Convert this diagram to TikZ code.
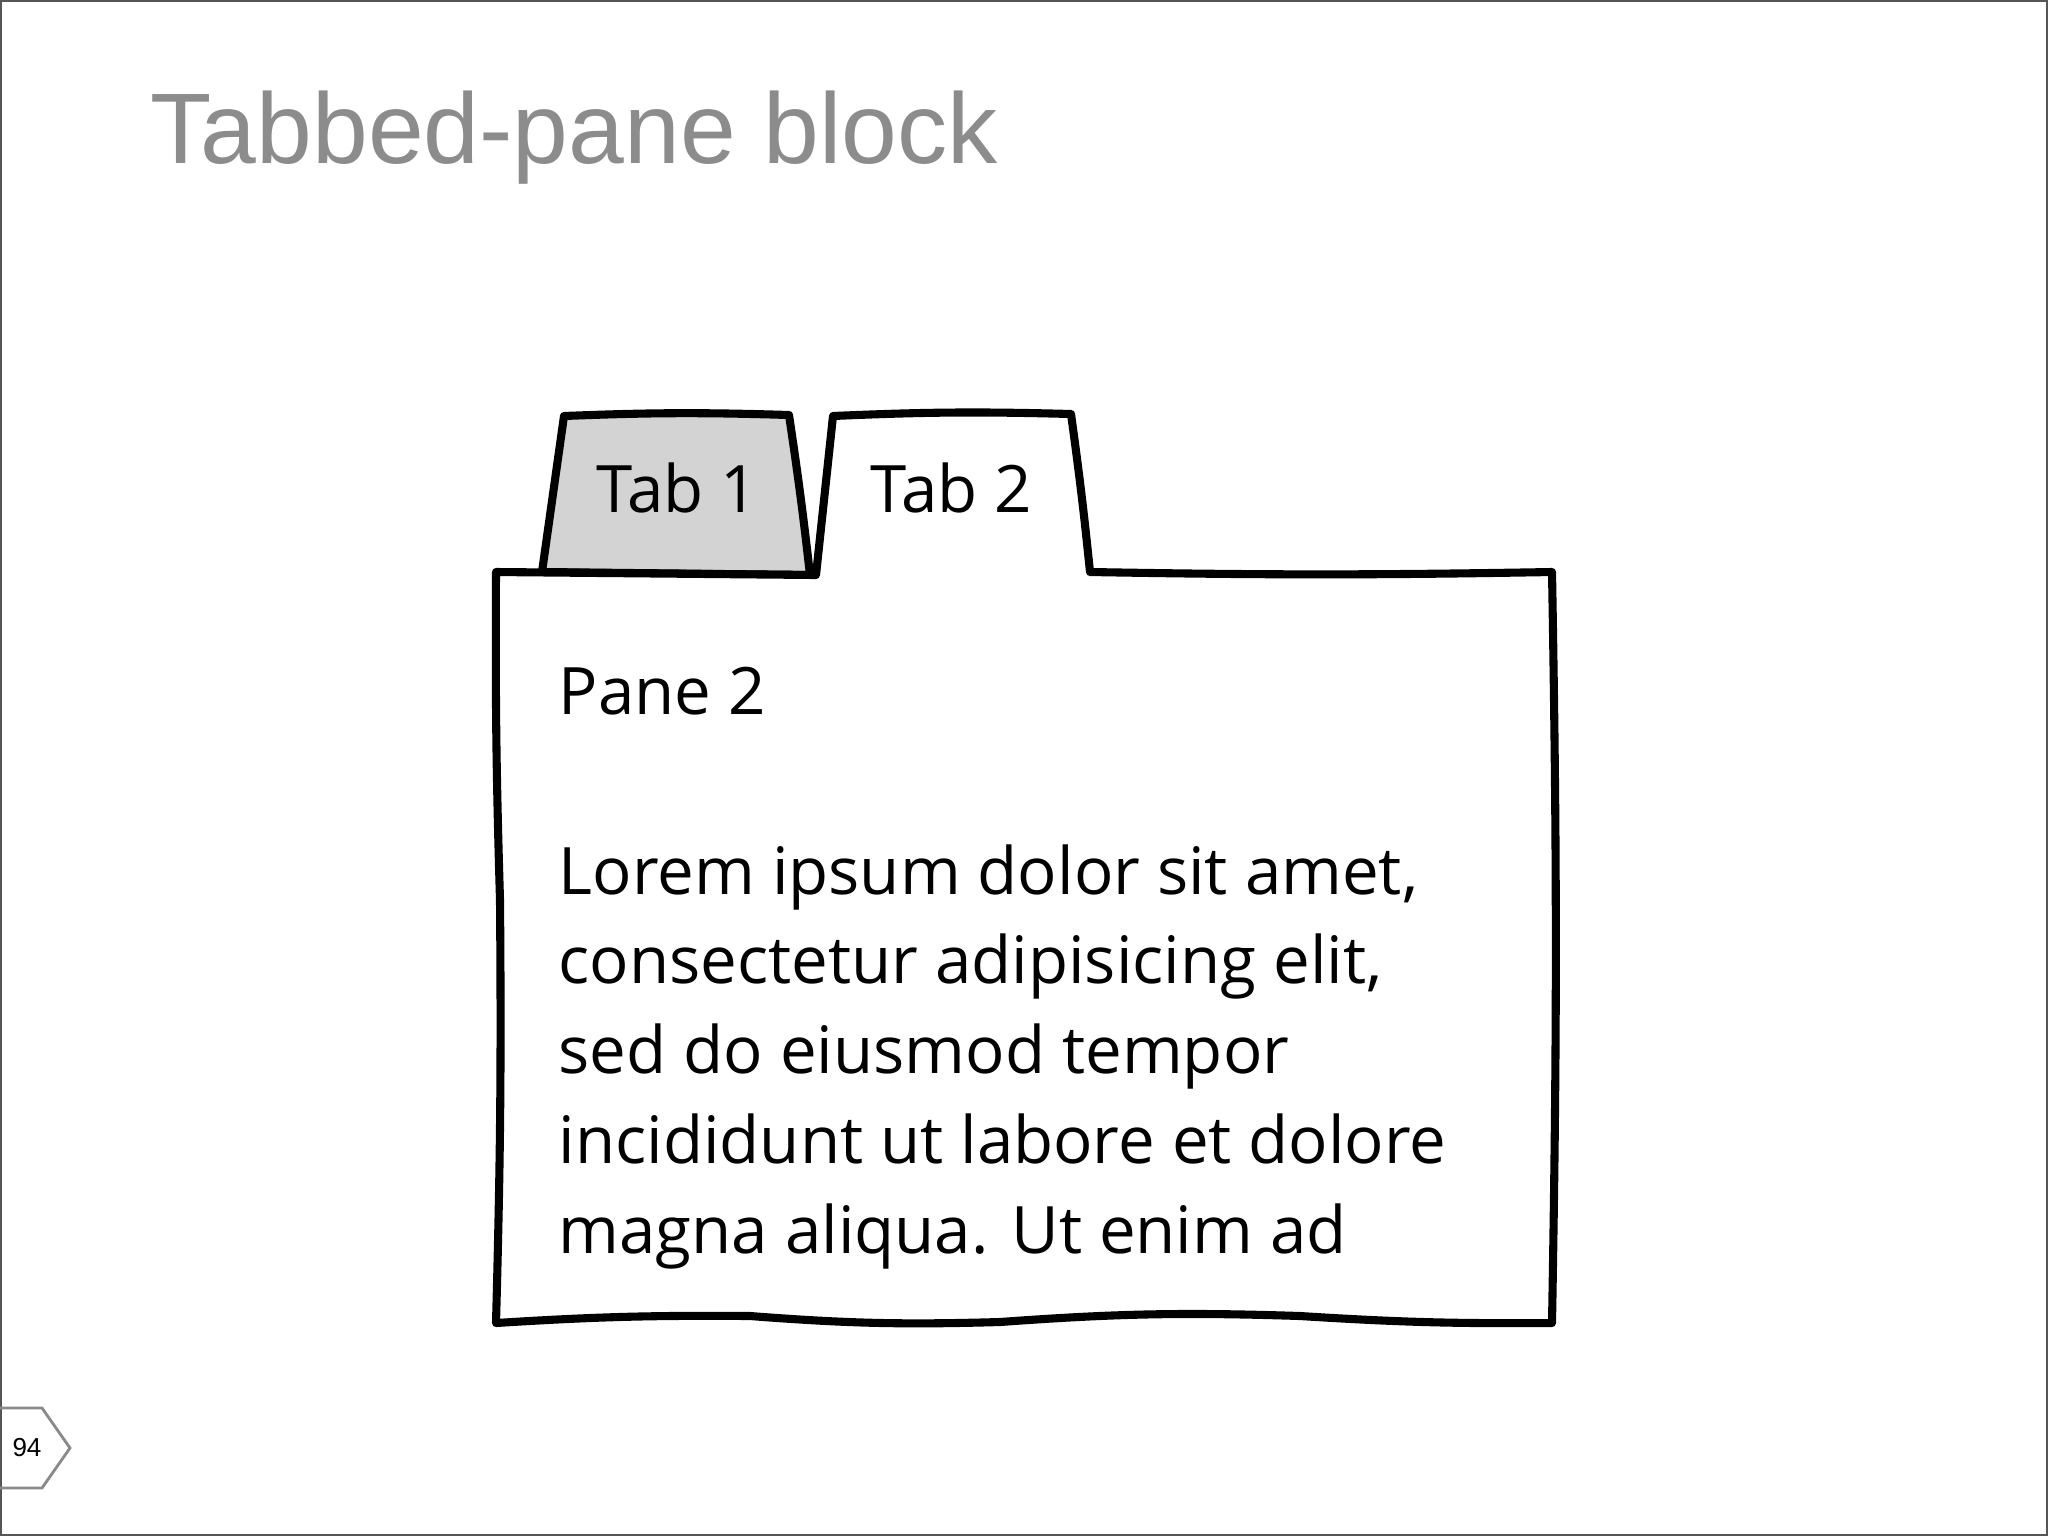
\documentclass[tikz,border=0pt]{standalone}
\usepackage{fontspec}
\setmainfont{Liberation Sans}
\newfontfamily\handfont{Open Sans}
\usetikzlibrary{calc}
\usepackage{xcolor}
\definecolor{titlegray}{HTML}{8C8C8C}
\definecolor{tabgray}{HTML}{D3D3D3}
\definecolor{framegray}{HTML}{555555}
\definecolor{taggray}{HTML}{8A8A8A}

\begin{document}
\begin{tikzpicture}[x=0.01cm, y=-0.01cm,
    sketch/.style={line width=2.3pt, line join=round, line cap=round},
    handtext/.style={font=\handfont\fontsize{18.6}{25.5}\selectfont, inner sep=0}]
        \useasboundingbox (0,0) rectangle (2048,1536);
        \draw[framegray, line width=0.6pt] (1,1) rectangle (2047,1535);

        \node[anchor=base west, inner sep=0, text=titlegray, font=\fontsize{28.5}{34}\selectfont] (title) at (150,163) {Tabbed-pane block};

        % tab 1 corners
        \coordinate (A1) at (542,572);
        \coordinate (B1) at (564,416);
        \coordinate (C1) at (789,415);
        \coordinate (D1) at (810,575);
        % tab 2 corners
        \coordinate (A2) at (816,575);
        \coordinate (B2) at (833,416);
        \coordinate (C2) at (1071,414);
        \coordinate (D2) at (1090,572);
        % pane corners
        \coordinate (TL) at (496,572);
        \coordinate (TR) at (1552,572);
        \coordinate (BR) at (1552,1323);
        \coordinate (BL) at (496,1323);

        \draw[sketch, fill=tabgray] (A1) -- (B1) to[bend left=2] (C1) to[bend left=1] (D1) -- cycle;
        \draw[sketch, fill=white] (A2) -- (B2) to[bend left=2] (C2) to[bend left=1] (D2)
            to[bend right=1] (TR) to[bend left=1] (BR)
            to[bend left=2] (1300,1316) to[bend right=3] (1000,1322) to[bend left=3] (750,1316) to[bend right=2] (BL)
            to[bend right=1] (500,900) to[bend left=1] (TL) -- cycle;

        \node[handtext, anchor=base] (tab1) at (677,512) {Tab 1};
        \node[handtext, anchor=base] (tab2) at (951,512) {Tab 2};
        \node[handtext, anchor=base west] (pane) at (558,714) {Pane 2};
        % base of a multi-line node sits on its last line
        \node[handtext, anchor=base west, align=left] (body) at (558,1253)
            {Lorem ipsum dolor sit amet,\\consectetur adipisicing elit,\\sed do eiusmod tempor\\incididunt ut labore et dolore\\magna aliqua. Ut enim ad};

        % page tag
        \coordinate (P1) at (0,1408);
        \coordinate (P2) at (42,1408);
        \coordinate (P3) at (70,1448);
        \coordinate (P4) at (42,1488);
        \coordinate (P5) at (0,1488);
        \draw[taggray, line width=0.8pt] (P1) -- (P2) -- (P3) -- (P4) -- (P5);
        \node[font=\fontsize{7.4}{9}\selectfont, inner sep=0] (page) at (27,1448) {94};
    \end{tikzpicture}
\end{document}
